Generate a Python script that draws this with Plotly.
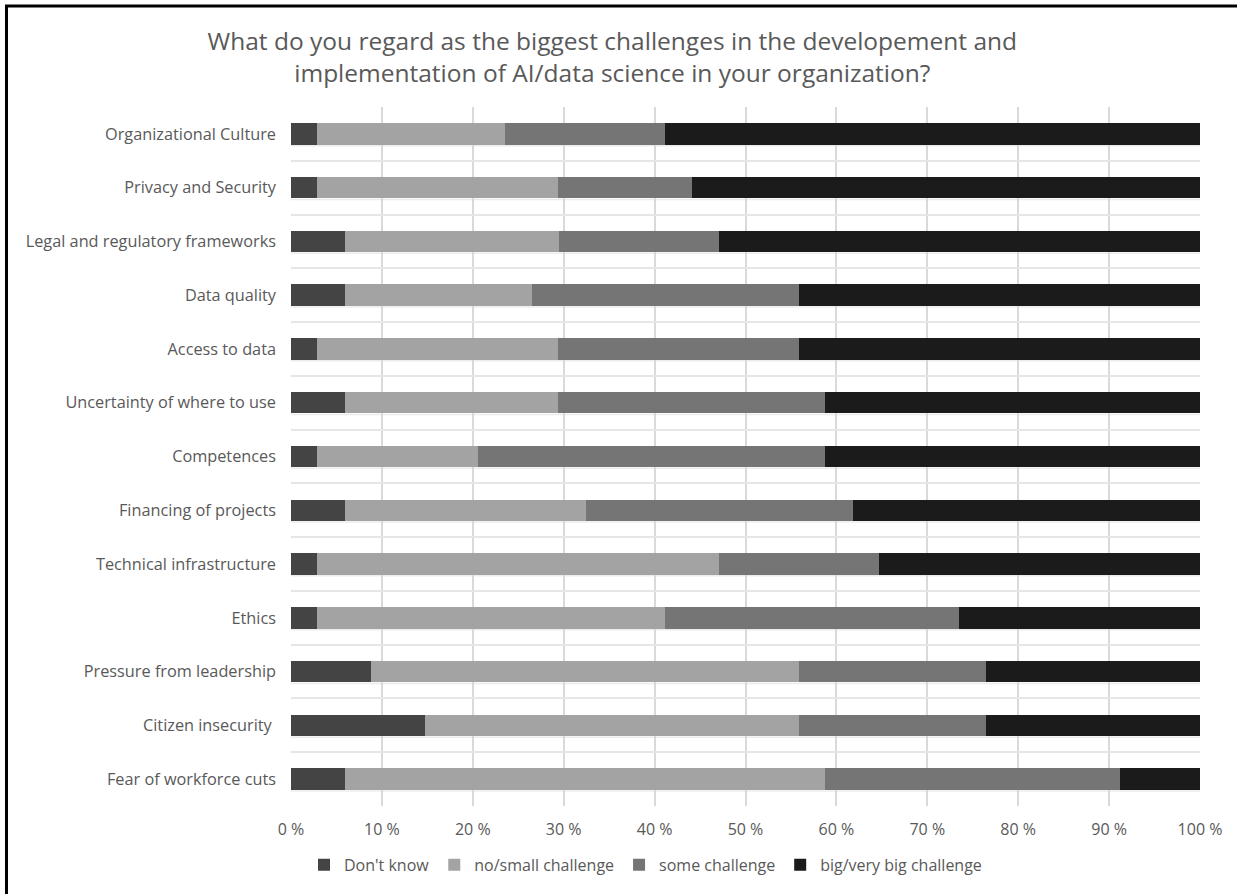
import plotly.graph_objects as go

categories = [
    "Organizational Culture",
    "Privacy and Security",
    "Legal and regulatory frameworks",
    "Data quality",
    "Access to data",
    "Uncertainty of where to use",
    "Competences",
    "Financing of projects",
    "Technical infrastructure",
    "Ethics",
    "Pressure from leadership",
    "Citizen insecurity\u00a0",
    "Fear of workforce cuts",
]

dont_know = [2.9, 2.9, 5.9, 5.9, 2.9, 5.9, 2.9, 5.9, 2.9, 2.9, 8.8, 14.7, 5.9]
no_small = [20.6, 26.5, 23.5, 20.6, 26.5, 23.5, 17.6, 26.5, 44.1, 38.2, 47.1, 41.2, 52.9]
some = [17.6, 14.7, 17.6, 29.4, 26.5, 29.4, 38.2, 29.4, 17.6, 32.4, 20.6, 20.6, 32.4]
big = [58.8, 55.9, 52.9, 44.1, 44.1, 41.2, 41.2, 38.2, 35.3, 26.5, 23.5, 23.5, 8.8]

series_names = ["Don't know", "no/small challenge", "some challenge", "big/very big challenge"]
series_values = [dont_know, no_small, some, big]
series_colors = ["#444444", "#a3a3a3", "#757575", "#1b1b1b"]

W, H = 1237, 894
ML, MR, MT, MB = 291, 37, 107, 85
BAR_WIDTH = 0.4

fig = go.Figure()
for name, vals, col in zip(series_names, series_values, series_colors):
    fig.add_trace(go.Bar(
        y=categories, x=vals, name=name, orientation="h",
        marker=dict(color=col, line=dict(width=0)),
        width=BAR_WIDTH,
    ))

font_family = "Open Sans, Noto Sans, sans-serif"
grid_col = "#d9d9d9"

shapes = []
# faint line along the lower edge of each bar
for i in range(len(categories)):
    shapes.append(dict(type="line", xref="paper", yref="y", x0=0, x1=1,
                       y0=i + BAR_WIDTH / 2 + 0.02, y1=i + BAR_WIDTH / 2 + 0.02,
                       line=dict(color="#ececec", width=1.5), layer="below"))

# outer chart border
pw = W - ML - MR
ph = H - MT - MB
bx0 = (6.5 - ML) / pw
by1 = (H - MB - 5.5) / ph
shapes.append(dict(type="rect", xref="paper", yref="paper",
                   x0=bx0, x1=(W + 20 - ML) / pw, y0=-(MB + 20) / ph, y1=by1,
                   line=dict(color="black", width=3), fillcolor="rgba(0,0,0,0)"))

fig.update_layout(
    width=W, height=H,
    margin=dict(l=ML, r=MR, t=MT, b=MB),
    barmode="stack", barnorm="percent",
    paper_bgcolor="white", plot_bgcolor="white",
    font=dict(family=font_family, size=16, color="#595959"),
    title=dict(
        text="What do you regard as the biggest challenges in the developement and<br>implementation of AI/data science in your organization?",
        x=0.495, xanchor="center", xref="container",
        y=1 - 50 / H, yanchor="middle", yref="container",
        font=dict(size=24.5, color="#595959", family=font_family),
    ),
    xaxis=dict(
        range=[0, 100], tickmode="linear", tick0=0, dtick=10, ticksuffix=" %",
        showgrid=True, gridcolor=grid_col, gridwidth=1.5,
        zeroline=False, showline=False, ticks="", fixedrange=True,
        ticklabelstandoff=12,
        tickfont=dict(size=16, color="#595959"),
    ),
    yaxis=dict(
        categoryorder="array", categoryarray=categories,
        range=[len(categories) - 0.5, -0.5],
        tickson="boundaries", showgrid=True, gridcolor="#e6e6e6", gridwidth=1.5,
        ticks="", ticklabelstandoff=14,
        showline=False, zeroline=False,
        tickfont=dict(size=16.3, color="#595959"),
    ),
    legend=dict(
        orientation="h", x=0.39, xanchor="center", y=-(868 - (H - MB)) / ph, yanchor="middle",
        font=dict(size=16, color="#595959"), traceorder="normal",
        itemwidth=30,
    ),
    shapes=shapes,
    bargap=1 - BAR_WIDTH,
)

fig.write_html("out.html")
